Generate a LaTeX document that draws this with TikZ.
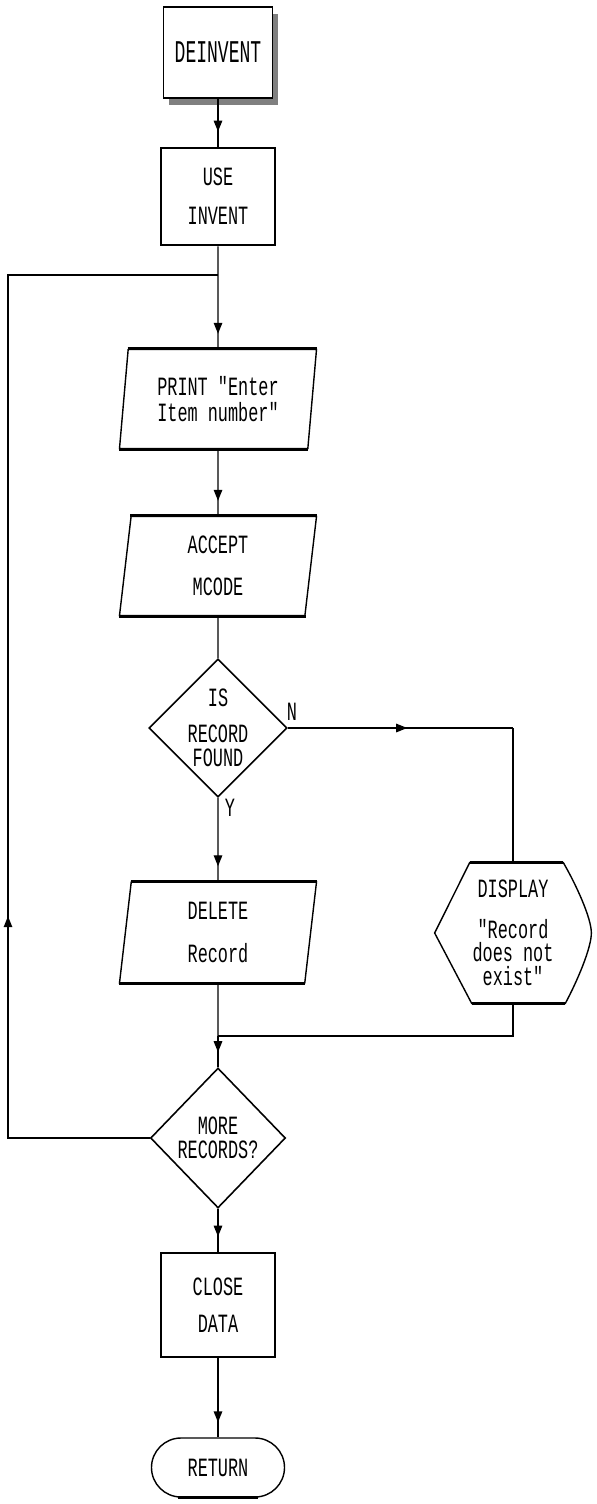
\documentclass[tikz,border=0pt]{standalone}
\usepackage{fontspec}
\usetikzlibrary{arrows.meta, shadows, shapes.geometric, shapes.misc, decorations.markings}
\newfontfamily\dotfont[FakeStretch=0.64]{Liberation Mono}
\newfontfamily\titlefont[FakeStretch=0.57]{Liberation Mono}

\begin{document}
\begin{tikzpicture}[
    txt/.style={font=\dotfont\fontsize{15}{13.5}\selectfont, align=center, inner sep=0pt},
    procbox/.style={txt, draw, fill=white, line width=1.6pt, minimum width=2.28cm},
    iobox/.style={txt, draw, line width=0.8pt, trapezium, trapezium left angle=79, trapezium right angle=101, trapezium stretches body, minimum width=3.94cm, minimum height=1.98cm},
    decision/.style={txt, draw, line width=0.9pt, diamond, minimum width=2.7cm, minimum height=2.76cm},
    heavy/.style={line width=1.8pt},
    link/.style={line width=0.8pt},
    flowtip/.tip={Triangle[length=2.2mm, width=1.7mm]},
    flow/.style={link, postaction={decorate}, decoration={markings, mark=at position -0.3cm with {\arrow{flowtip}}}},
    midflow/.style={link, postaction={decorate}, decoration={markings, mark=at position 0.53 with {\arrow{flowtip}}}},
    loopflow/.style={link, postaction={decorate}, decoration={markings, mark=at position 7.27cm with {\arrow{flowtip}}}}
  ]
  \fill[white] (0,0) rectangle (11.92,-30.08);
  \useasboundingbox (0,0) rectangle (11.92,-30.08);

  % start block
  \node[procbox, font=\titlefont\fontsize{18}{14}\selectfont, line width=0.8pt, minimum width=2.18cm, minimum height=1.82cm,
        drop shadow={shadow xshift=0.11cm, shadow yshift=-0.15cm, fill=black!50, opacity=1}] (deinv) at (4.36,-1.05) {DEINVENT};
  \node[procbox, minimum height=1.94cm] (use) at (4.36,-3.93) {USE\\[0.3cm]INVENT};

  \node[iobox] (print) at (4.36,-7.98) {PRINT "Enter\\[0.03cm]Item number"};
  \node[iobox] (accept) at (4.36,-11.32) {ACCEPT\\[0.36cm]MCODE};
  \draw[heavy] (print.top left corner) -- (print.top right corner);
  \draw[heavy] (print.bottom left corner) -- (print.bottom right corner);
  \draw[heavy] (accept.top left corner) -- (accept.top right corner);
  \draw[heavy] (accept.bottom left corner) -- (accept.bottom right corner);

  \node[decision] (isrec) at (4.36,-14.56) {IS\\[0.24cm]RECORD\\FOUND};

  \node[iobox, minimum height=2.02cm] (del) at (4.36,-18.65) {DELETE\\[0.38cm]Record};
  \draw[heavy] (del.top left corner) -- (del.top right corner);
  \draw[heavy] (del.bottom left corner) -- (del.bottom right corner);

  % display symbol
  \node[txt, minimum width=3.12cm, minimum height=2.8cm] (disp) at (10.26,-18.66) {DISPLAY\\[0.33cm]"Record\\does not\\exist"};
  \draw[line width=0.8pt] (disp.west) -- ([xshift=0.7cm]disp.north west) -- ([xshift=-0.56cm]disp.north east)
    .. controls ([xshift=-0.3cm,yshift=-0.45cm]disp.north east) and ([yshift=0.3cm]disp.east) .. (disp.east)
    .. controls ([yshift=-0.3cm]disp.east) and ([xshift=-0.28cm,yshift=0.45cm]disp.south east) .. ([xshift=-0.52cm]disp.south east)
    -- ([xshift=0.74cm]disp.south west) -- cycle;
  \draw[heavy] ([xshift=0.7cm]disp.north west) -- ([xshift=-0.56cm]disp.north east);
  \draw[heavy] ([xshift=0.74cm]disp.south west) -- ([xshift=-0.52cm]disp.south east);

  \node[decision, minimum height=2.8cm] (more) at (4.36,-22.76) {MORE\\RECORDS?};
  \node[procbox, minimum height=2.08cm] (close) at (4.36,-26.10) {CLOSE\\[0.26cm]DATA};
  \node[txt, draw, line width=0.8pt, rounded rectangle, minimum width=2.66cm, minimum height=1.18cm] (ret) at (4.36,-29.35) {RETURN};
  \draw[heavy] ([xshift=-0.8cm]ret.south) -- ([xshift=0.8cm]ret.south);

  \node[txt] (nlbl) at (5.84,-14.24) {N};
  \node[txt] (ylbl) at (4.60,-16.16) {Y};

  % junctions
  \coordinate (lpin) at (4.36,-5.50);
  \coordinate (lptop) at (0.16,-5.50);
  \coordinate (lpbot) at (0.16,-22.76);
  \coordinate (nturn) at (10.26,-14.56);
  \coordinate (join) at (4.36,-20.72);

  % connectors
  \draw[flow] (deinv.south) -- (use.north);
  \draw[flow] (use.south) -- (print.north);
  \draw[flow] (print.south) -- (accept.north);
  \draw[link] (accept.south) -- (isrec.north);
  \draw[midflow] (isrec.east) -- (nturn);
  \draw[link] (nturn) -- (disp.north);
  \draw[flow] (isrec.south) -- (del.north);
  \draw[link] (del.south) -- (join);
  \draw[link] (disp.south) |- (join);
  \draw[flow] (join) -- (more.north);
  \draw[loopflow] (more.west) -- (lpbot) -- (lptop) -- (lpin);
  \draw[flow] (more.south) -- (close.north);
  \draw[flow] (close.south) -- (ret.north);
\end{tikzpicture}
\end{document}
